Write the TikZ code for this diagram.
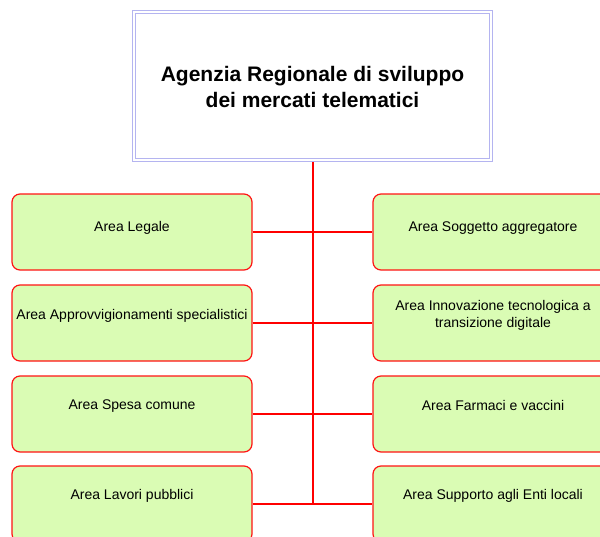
\documentclass[tikz,border=0pt]{standalone}
\usepackage{fontspec}
\setmainfont{Liberation Sans}
\definecolor{boxfill}{RGB}{218,252,180}
\definecolor{lav}{RGB}{180,180,240}
\definecolor{lred}{RGB}{255,20,20}
\begin{document}
\begin{tikzpicture}[x=1pt,y=-1pt,
  topbox/.style={draw=lav, line width=1.2pt, double=white, double distance=1.5pt,
    fill=white, minimum width=357pt, minimum height=148pt, inner sep=0pt},
  areabox/.style={draw=lred, line width=1.2pt, fill=boxfill, rounded corners=8pt,
    minimum width=240pt, minimum height=76pt, inner sep=0pt},
  areatext/.style={font=\fontsize{14}{17}\selectfont, align=center, inner sep=0pt},
  trunk/.style={draw=red, line width=2pt},
  branch/.style={draw=red, line width=1.2pt}]
\clip (0,0) rectangle (600,536);
\fill[white] (0,0) rectangle (600,536);
% top
\node[topbox] (top) at (312.5,86) {};
\node[font=\fontsize{21}{26}\selectfont\bfseries, align=center, inner sep=0pt] (toptext) at (312.5,86.5)
  {Agenzia Regionale di sviluppo\\dei mercati telematici};
% boxes
\node[areabox] (l1) at (132,232) {};
\node[areabox] (l2) at (132,323) {};
\node[areabox] (l3) at (132,414) {};
\node[areabox] (l4) at (132,504) {};
\node[areabox] (r1) at (493,232) {};
\node[areabox] (r2) at (493,323) {};
\node[areabox] (r3) at (493,414) {};
\node[areabox] (r4) at (493,504) {};
% texts
\node[areatext] (tl1) at (132,228) {Area Legale};
\node[areatext] (tl2) at (132,315.5) {Area Approvvigionamenti specialistici};
\node[areatext] (tl3) at (132,405.8) {Area Spesa comune};
\node[areatext] (tl4) at (132,495.8) {Area Lavori pubblici};
\node[areatext] (tr1) at (493,228) {Area Soggetto aggregatore};
\node[areatext] (tr2) at (493,315) {Area Innovazione tecnologica a\\transizione digitale};
\node[areatext] (tr3) at (493,405.8) {Area Farmaci e vaccini};
\node[areatext] (tr4) at (493,495.8) {Area Supporto agli Enti locali};
% connectors
\coordinate (tend) at (313,504.6);
\path[trunk] ([xshift=0.5pt]top.south) ++(0,-1.2pt) -- (tend);
\path[branch] (l1.east) -- (r1.west);
\path[branch] (l2.east) -- (r2.west);
\path[branch] (l3.east) -- (r3.west);
\path[branch] (l4.east) -- (r4.west);
\end{tikzpicture}
\end{document}
